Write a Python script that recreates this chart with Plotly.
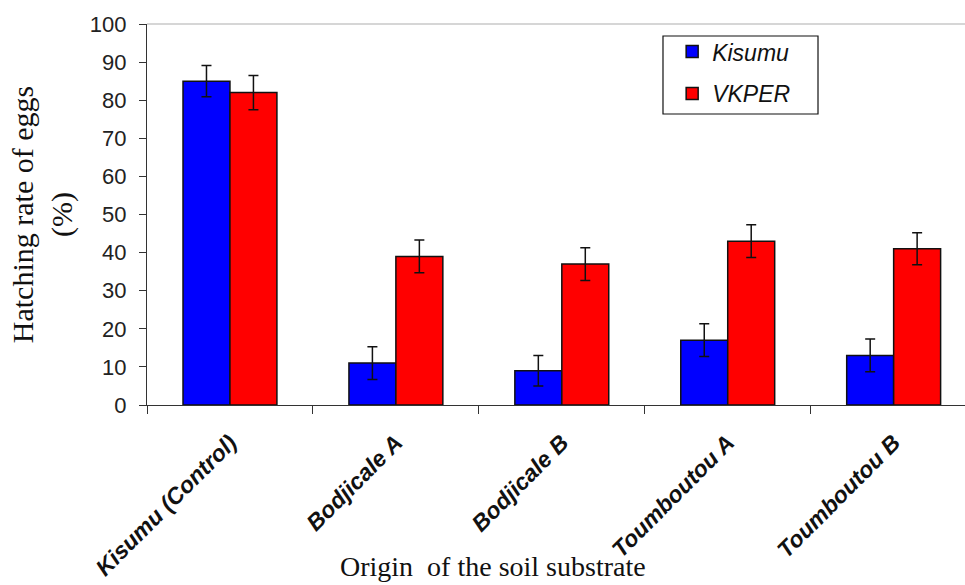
import plotly.graph_objects as go

categories = ["Kisumu (Control)", "Bodjicale A", "Bodjicale B", "Toumboutou A", "Toumboutou B"]
kisumu = [85, 11, 9, 17, 13]
kisumu_err = [4.1, 4.3, 4.0, 4.3, 4.3]
vkper = [82, 39, 37, 43, 41]
vkper_err = [4.5, 4.3, 4.3, 4.3, 4.2]
y_ticks = [0, 10, 20, 30, 40, 50, 60, 70, 80, 90, 100]

fig = go.Figure()
fig.add_trace(go.Bar(
    x=categories, y=kisumu, name="Kisumu", legendgroup="a",
    marker=dict(color="#0000ff", line=dict(color="#111111", width=1.5)),
    error_y=dict(type="data", array=kisumu_err, color="#111111", thickness=1.5, width=5),
))
fig.add_trace(go.Bar(
    x=categories, y=vkper, name="VKPER", legendgroup="b",
    marker=dict(color="#ff0000", line=dict(color="#111111", width=1.5)),
    error_y=dict(type="data", array=vkper_err, color="#111111", thickness=1.5, width=5),
))

fig.update_layout(
    width=965, height=585,
    margin=dict(l=147, r=0, t=24, b=180),
    paper_bgcolor="white", plot_bgcolor="white",
    barmode="group", bargap=0.434, bargroupgap=0,
    font=dict(family="Liberation Sans, Arial", color="#222222"),
    legend=dict(
        x=0.642, y=0.984, xanchor="left", yanchor="top",
        borderwidth=0, bgcolor="rgba(0,0,0,0)",
        font=dict(size=23, family="Liberation Sans, Arial", style="italic", color="#111111"),
        tracegroupgap=9, itemwidth=30,
    ),
    showlegend=True,
)
fig.update_xaxes(
    type="category", range=[-0.5, 4.43],
    showline=True, linecolor="#333333", linewidth=1.2,
    mirror=False, ticks="outside", tickson="boundaries", ticklen=8, tickcolor="#333333",
    tickangle=-45, ticklabelstandoff=14,
    tickfont=dict(size=23, family="Liberation Sans, Arial", weight="bold", style="italic", color="#111111"),
    showgrid=False,
)
fig.update_yaxes(
    range=[0, 100], tickvals=y_ticks,
    showline=True, linecolor="#333333", linewidth=1.2,
    ticks="outside", ticklen=7, tickcolor="#333333", ticklabelstandoff=8,
    tickfont=dict(size=22, family="Liberation Sans, Arial", color="#222222"),
    title=dict(text="Hatching rate of eggs<br>(%)", font=dict(size=30, family="Liberation Serif, Times New Roman", color="#111111"), standoff=8),
    showgrid=False, zeroline=False,
)
fig.add_annotation(
    text="Origin  of the soil substrate", xref="paper", yref="paper",
    x=0.423, y=-0.425, xanchor="center", yanchor="middle", showarrow=False,
    font=dict(size=28, family="Liberation Serif, Times New Roman", color="#111111"),
)
# legend frame
fig.add_shape(type="rect", xref="paper", yref="paper",
              x0=0.6308, x1=0.8203, y0=0.7638, y1=0.9685,
              line=dict(color="#111111", width=1.2), fillcolor="white", layer="above")
# thin grey top border line
fig.add_shape(type="line", xref="paper", yref="paper", x0=0, x1=1, y0=1, y1=1,
              line=dict(color="#c8c8c8", width=1.5))

fig.write_html("out.html")
